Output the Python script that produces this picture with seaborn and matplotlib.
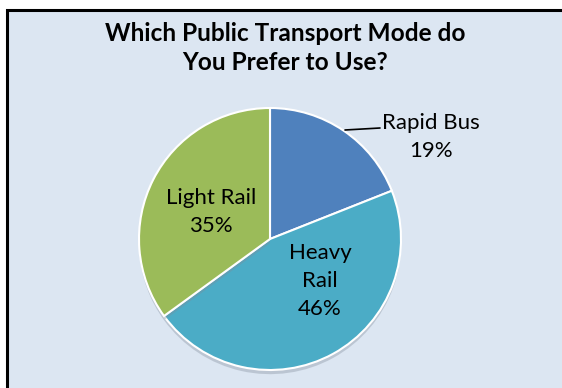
import matplotlib
matplotlib.use("Agg")
import matplotlib.pyplot as plt
from matplotlib.patches import Rectangle
import matplotlib.patheffects as pe
import seaborn as sns

# Survey results
modes = ["Rapid Bus", "Heavy Rail", "Light Rail"]
shares = [19, 46, 35]
label_text = ["Rapid Bus\n19%", "Heavy\nRail\n46%", "Light Rail\n35%"]
colors = ["#4F81BD", "#4BACC6", "#9BBB59"]

sns.set_theme(style="white")
plt.rcParams["font.family"] = ["Lato", "DejaVu Sans"]

W, H = 562, 388
fig = plt.figure(figsize=(W / 100, H / 100), dpi=100)
fig.patch.set_facecolor("white")

# chart area frame
frame = Rectangle((7 / W, -0.05), 1.0, (H - 9.5) / H + 0.05,
                  transform=fig.transFigure, facecolor="#DCE6F2",
                  edgecolor="black", linewidth=2.2, zorder=-5)
fig.patches.append(frame)

fig.text(285 / W, 1 - 48 / H, "Which Public Transport Mode do\nYou Prefer to Use?",
         ha="center", va="center", fontsize=17.6, fontweight="bold",
         linespacing=1.36, color="black")

cx, cy, r = 270, 239, 131
ax = fig.add_axes([(cx - r) / W, (H - cy - r) / H, 2 * r / W, 2 * r / H])
ax.set_zorder(2)
ax.patch.set_visible(False)

wedges, _ = ax.pie(shares, colors=colors, startangle=90, counterclock=False,
                   radius=1.0, center=(0, 0), frame=False,
                   wedgeprops=dict(edgecolor="white", linewidth=1.5))
for w in wedges:
    w.set_path_effects([pe.SimplePatchShadow(offset=(0, -3), shadow_rgbFace="#7f8a99", alpha=0.35),
                        pe.Normal()])
ax.set_xlim(-1, 1)
ax.set_ylim(-1, 1)
ax.set_aspect("equal")
ax.axis("off")

def to_data(px, py):
    return ((px - cx) / r, (cy - py) / r)

positions = [to_data(431, 137), to_data(320, 281), to_data(211, 212)]
for txt, (x, y) in zip(label_text, positions):
    ax.text(x, y, txt, ha="center", va="center", fontsize=16,
            linespacing=1.5, color="black", clip_on=False)

# leader line for the outside label
(x0, y0), (x1, y1) = to_data(345, 130), to_data(380, 128)
ax.plot([x0, x1], [y0, y1], color="black", linewidth=1.2, clip_on=False)

fig.savefig("out.png", dpi=100, facecolor=fig.get_facecolor())
